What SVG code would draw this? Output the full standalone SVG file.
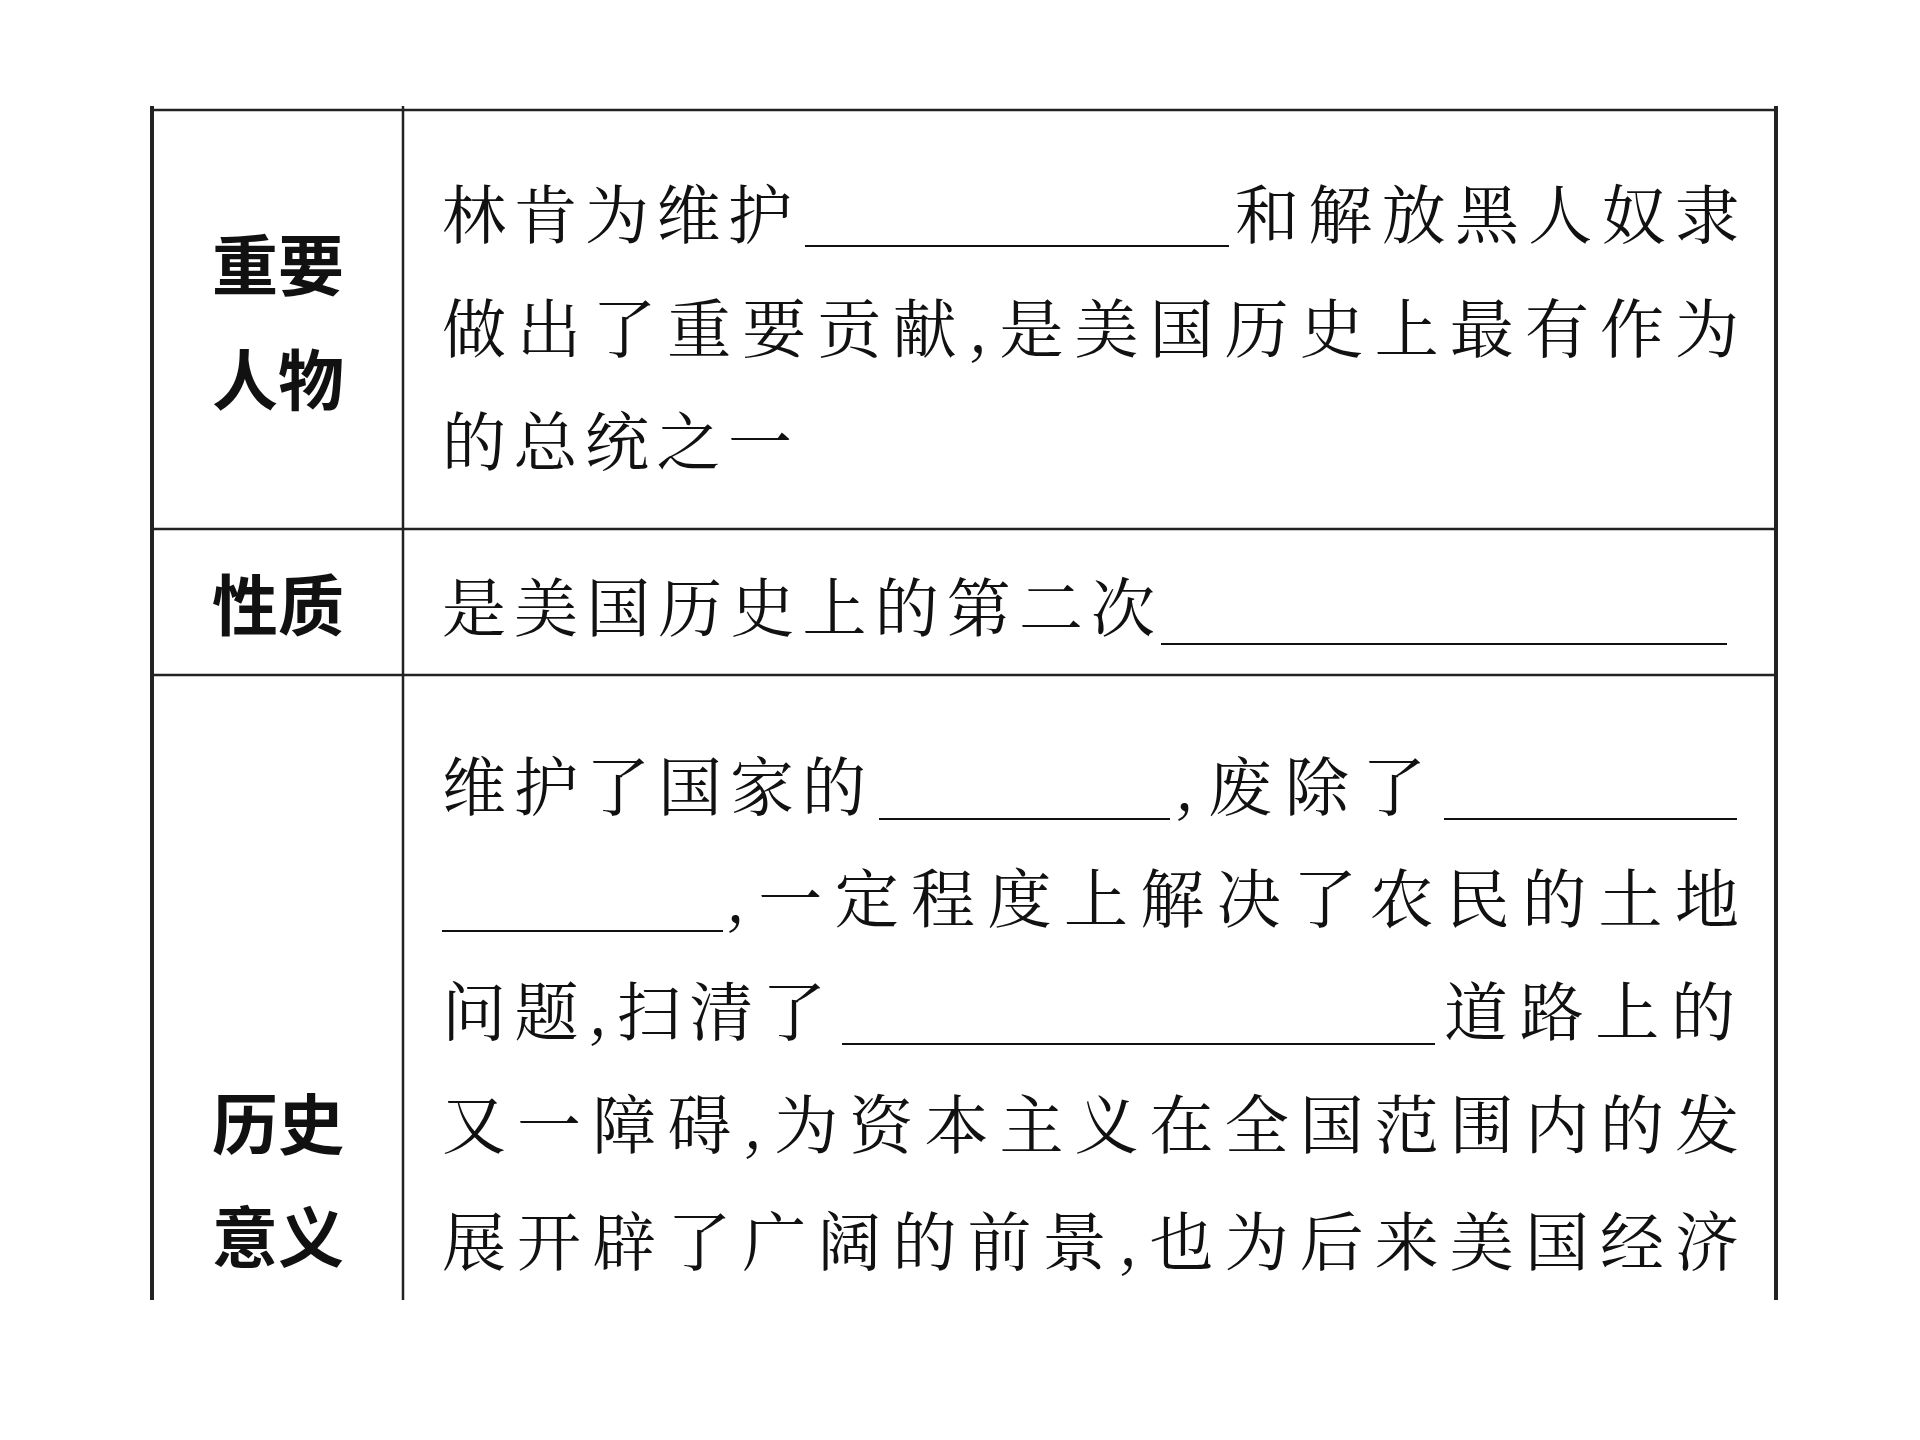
<svg xmlns="http://www.w3.org/2000/svg" width="1920" height="1440" viewBox="0 0 1920 1440">
<style>
.t{font-family:"Noto Serif CJK SC","Noto Sans CJK SC",serif;font-size:64px;fill:#111}
.h{font-family:"Noto Sans CJK SC",sans-serif;font-size:66px;font-weight:bold;fill:#111;text-anchor:middle}
.l{stroke:#222;stroke-width:2.5;fill:none}
.b{stroke:#111;stroke-width:2}
</style>
<rect width="1920" height="1440" fill="#fff"/>
<g id="grid" class="l">
<line x1="152" y1="110" x2="1776" y2="110"/>
<line x1="152" y1="529" x2="1776" y2="529"/>
<line x1="152" y1="675" x2="1776" y2="675"/>
<line x1="152" y1="106" x2="152" y2="1300" stroke-width="4"/>
<line x1="403" y1="106" x2="403" y2="1300"/>
<line x1="1776" y1="106" x2="1776" y2="1300" stroke-width="4"/>
</g>
<g id="row1">
<text class="h" x="278" y="290">重要</text>
<text class="h" x="278" y="405">人物</text>
<text class="t" x="442" y="238" textLength="350">林肯为维护</text>
<line class="b" x1="805" y1="246" x2="1229" y2="246"/>
<text class="t" x="1235" y="238" textLength="504">和解放黑人奴隶</text>
<text class="t" x="442" y="352" textLength="1297">做出了重要贡献,是美国历史上最有作为</text>
<text class="t" x="442" y="465" textLength="350">的总统之一</text>
</g>
<g id="row2">
<text class="h" x="278" y="630">性质</text>
<text class="t" x="442" y="631" textLength="713">是美国历史上的第二次</text>
<line class="b" x1="1161" y1="644" x2="1727" y2="644"/>
</g>
<g id="row3">
<text class="h" x="278" y="1149">历史</text>
<text class="h" x="278" y="1262">意义</text>
<text class="t" x="442" y="810" textLength="424">维护了国家的</text>
<line class="b" x1="879" y1="819" x2="1170" y2="819"/>
<text class="t" x="1174" y="810" textLength="252">,废除了</text>
<line class="b" x1="1444" y1="819" x2="1737" y2="819"/>
<line class="b" x1="442" y1="931" x2="723" y2="931"/>
<text class="t" x="725" y="922" textLength="1014">,一定程度上解决了农民的土地</text>
<text class="t" x="442" y="1035" textLength="384">问题,扫清了</text>
<line class="b" x1="842" y1="1044" x2="1435" y2="1044"/>
<text class="t" x="1444" y="1035" textLength="291">道路上的</text>
<text class="t" x="442" y="1148" textLength="1297">又一障碍,为资本主义在全国范围内的发</text>
<text class="t" x="442" y="1265" textLength="1297">展开辟了广阔的前景,也为后来美国经济</text>
</g>
</svg>
